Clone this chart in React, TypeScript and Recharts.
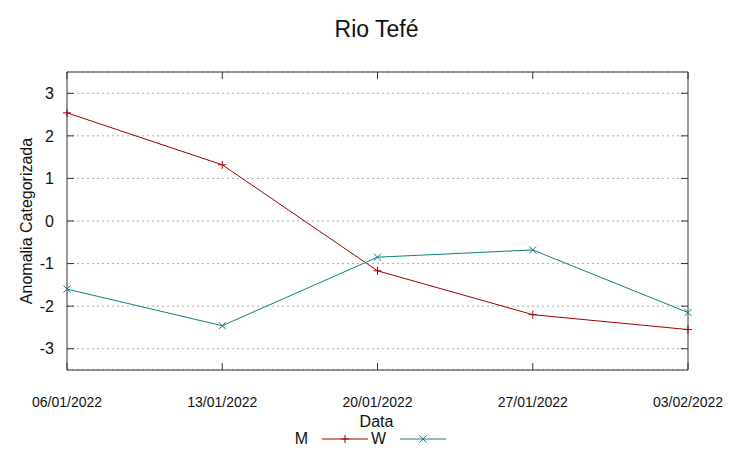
import React from "react";
import {
  LineChart,
  Line,
  XAxis,
  YAxis,
  CartesianGrid,
  Legend,
} from "recharts";

const dates = ["06/01/2022", "13/01/2022", "20/01/2022", "27/01/2022", "03/02/2022"];
const seriesM = [2.54, 1.32, -1.17, -2.2, -2.55];
const seriesW = [-1.6, -2.46, -0.85, -0.68, -2.15];
const yTicks = [-3, -2, -1, 0, 1, 2, 3];

const data = dates.map((d, i) => ({ date: d, M: seriesM[i], W: seriesW[i] }));

const colorM = "#a00000";
const colorW = "#108080";
const font = "'Liberation Sans', Arial, sans-serif";
const border = "#333";

const PlusDot = (props: any) => {
  const { cx, cy } = props;
  if (cx == null || cy == null) return null;
  return (
    <g>
      <line x1={cx - 4} y1={cy} x2={cx + 4} y2={cy} stroke={colorM} strokeWidth={1} />
      <line x1={cx} y1={cy - 4} x2={cx} y2={cy + 4} stroke={colorM} strokeWidth={1} />
    </g>
  );
};

const CrossDot = (props: any) => {
  const { cx, cy } = props;
  if (cx == null || cy == null) return null;
  return (
    <g>
      <line x1={cx - 3.5} y1={cy - 3.5} x2={cx + 3.5} y2={cy + 3.5} stroke={colorW} strokeWidth={1} />
      <line x1={cx - 3.5} y1={cy + 3.5} x2={cx + 3.5} y2={cy - 3.5} stroke={colorW} strokeWidth={1} />
    </g>
  );
};

const LeftTick = (props: any) => {
  const { x, y, payload } = props;
  return (
    <g>
      <line x1={x} y1={y} x2={x + 7} y2={y} stroke={border} />
      <text x={x - 13} y={y} dy="0.36em" textAnchor="end" fontSize={16} fill="#111" fontFamily={font}>
        {payload.value}
      </text>
    </g>
  );
};

const RightTick = (props: any) => {
  const { x, y } = props;
  return <line x1={x} y1={y} x2={x - 7} y2={y} stroke={border} />;
};

const BottomTick = (props: any) => {
  const { x, y, payload } = props;
  return (
    <g>
      <line x1={x} y1={y} x2={x} y2={y - 7} stroke={border} />
      <text x={x} y={y + 37} textAnchor="middle" fontSize={14} fill="#111" fontFamily={font}>
        {payload.value}
      </text>
    </g>
  );
};

const TopTick = (props: any) => {
  const { x, y } = props;
  return <line x1={x} y1={y} x2={x} y2={y + 7} stroke={border} />;
};

const LegendContent = () => (
  <svg width={753} height={20} style={{ display: "block" }}>
    <text x={308} y={16} textAnchor="end" fontSize={16} fill="#111" fontFamily={font}>M</text>
    <line x1={322} y1={11} x2={368} y2={11} stroke={colorM} />
    <line x1={341} y1={11} x2={349} y2={11} stroke={colorM} />
    <line x1={345} y1={7} x2={345} y2={15} stroke={colorM} />
    <text x={386} y={16} textAnchor="end" fontSize={16} fill="#111" fontFamily={font}>W</text>
    <line x1={400} y1={11} x2={446} y2={11} stroke={colorW} />
    <line x1={419.5} y1={7.5} x2={426.5} y2={14.5} stroke={colorW} />
    <line x1={419.5} y1={14.5} x2={426.5} y2={7.5} stroke={colorW} />
  </svg>
);

export default function App() {
  return (
    <div style={{ position: "absolute", left: 0, top: 0, width: 753, height: 459, background: "#fff" }}>
      <div
        style={{
          position: "absolute",
          left: 0,
          top: 14,
          width: 753,
          textAlign: "center",
          fontFamily: font,
          fontSize: 23,
          color: "#111",
          lineHeight: "30px",
        }}
      >
        Rio Tefé
      </div>
      <LineChart
        width={753}
        height={459}
        data={data}
        margin={{ top: 71, right: 64, bottom: 0, left: 0 }}
      >
        <CartesianGrid
          xAxisId="bottom"
          yAxisId="left"
          horizontal
          vertical={false}
          stroke="#aaa"
          strokeDasharray="2 3"
        />
        <XAxis
          dataKey="date"
          xAxisId="bottom"
          orientation="bottom"
          height={69}
          padding={{ left: 0, right: 0 }}
          interval={0}
          tickSize={0}
          tickMargin={0}
          axisLine={{ stroke: border }}
          tickLine={false}
          tick={<BottomTick />}
        />
        <XAxis
          dataKey="date"
          xAxisId="top"
          orientation="top"
          height={1}
          padding={{ left: 0, right: 0 }}
          interval={0}
          tickSize={0}
          tickMargin={0}
          axisLine={{ stroke: border }}
          tickLine={false}
          tick={<TopTick />}
        />
        <YAxis
          yAxisId="left"
          width={67}
          domain={[-3.5, 3.5]}
          ticks={yTicks}
          allowDataOverflow
          tickSize={0}
          tickMargin={0}
          axisLine={{ stroke: border }}
          tickLine={false}
          tick={<LeftTick />}
          interval={0}
        />
        <YAxis
          yAxisId="right"
          orientation="right"
          width={1}
          domain={[-3.5, 3.5]}
          ticks={yTicks}
          allowDataOverflow
          tickSize={0}
          tickMargin={0}
          axisLine={{ stroke: border }}
          tickLine={false}
          tick={<RightTick />}
          interval={0}
        />
        <Legend
          verticalAlign="bottom"
          content={<LegendContent />}
          wrapperStyle={{ position: "absolute", left: 0, top: 428, width: 753, height: 20 }}
        />
        <Line
          xAxisId="bottom"
          yAxisId="left"
          type="linear"
          dataKey="M"
          name="M"
          stroke={colorM}
          strokeWidth={1}
          dot={<PlusDot />}
          activeDot={false}
          isAnimationActive={false}
        />
        <Line
          xAxisId="bottom"
          yAxisId="left"
          type="linear"
          dataKey="W"
          name="W"
          stroke={colorW}
          strokeWidth={1}
          dot={<CrossDot />}
          activeDot={false}
          isAnimationActive={false}
        />
        <Line
          xAxisId="top"
          yAxisId="right"
          type="linear"
          dataKey="M"
          name="M"
          stroke="none"
          dot={false}
          activeDot={false}
          legendType="none"
          isAnimationActive={false}
        />
      </LineChart>
      <div
        style={{
          position: "absolute",
          left: 0,
          top: 412,
          width: 753,
          textAlign: "center",
          fontFamily: font,
          fontSize: 16,
          color: "#111",
          lineHeight: "20px",
          pointerEvents: "none",
        }}
      >
        Data
      </div>
      <div
        style={{
          position: "absolute",
          left: 27,
          top: 221,
          transform: "translate(-50%, -50%) rotate(-90deg)",
          whiteSpace: "nowrap",
          fontFamily: font,
          fontSize: 16,
          color: "#111",
          lineHeight: "20px",
        }}
      >
        Anomalia Categorizada
      </div>
    </div>
  );
}
